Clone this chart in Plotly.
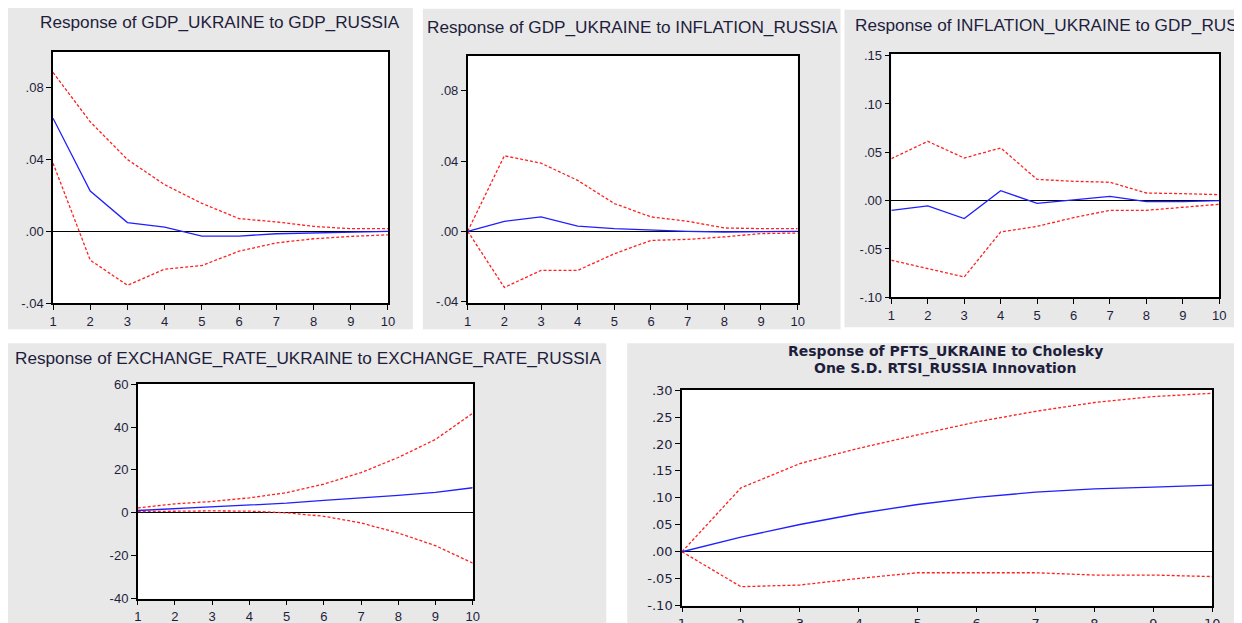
import plotly.graph_objects as go

W, H = 1242, 623
# The page body keeps the browser's default margin; target positions (measured
# on the reference in window pixels) are mapped into figure coordinates with an
# empirical linear correction for where the browser places the figure.
OFF = 8
XA, XB = 2.9, 0.9935
YA, YB = 8.4, 0.973

# ---------------- data ----------------
periods = [1, 2, 3, 4, 5, 6, 7, 8, 9, 10]

# Panel 1: Response of GDP_UKRAINE to GDP_RUSSIA
p1_resp = [0.063, 0.0225, 0.0049, 0.0024, -0.0026, -0.0026, -0.0013, -0.0008, -0.0005, 0.0]
p1_upper = [0.0885, 0.061, 0.040, 0.026, 0.0156, 0.0071, 0.0053, 0.0028, 0.0015, 0.0015]
p1_lower = [0.038, -0.016, -0.030, -0.021, -0.019, -0.011, -0.0064, -0.0041, -0.0028, -0.0019]

# Panel 2: Response of GDP_UKRAINE to INFLATION_RUSSIA
p2_resp = [0.0, 0.0057, 0.0082, 0.0029, 0.0015, 0.0006, 0.0, -0.0004, -0.0002, 0.0]
p2_upper = [0.0, 0.043, 0.0388, 0.029, 0.0158, 0.0082, 0.0057, 0.0019, 0.0015, 0.0015]
p2_lower = [0.0, -0.032, -0.0223, -0.0223, -0.0128, -0.0052, -0.0046, -0.0032, -0.0013, -0.001]

# Panel 3: Response of INFLATION_UKRAINE to GDP_RUSSIA
p3_resp = [-0.010, -0.0055, -0.0186, 0.0103, -0.0028, 0.001, 0.0045, -0.001, -0.001, 0.0]
p3_upper = [0.0434, 0.0614, 0.0441, 0.0545, 0.022, 0.020, 0.019, 0.0079, 0.0072, 0.0062]
p3_lower = [-0.0617, -0.0703, -0.079, -0.0324, -0.0266, -0.0176, -0.010, -0.010, -0.0072, -0.0038]

# Panel 4: Response of EXCHANGE_RATE_UKRAINE to EXCHANGE_RATE_RUSSIA
p4_resp = [1.1, 2.0, 3.0, 3.9, 4.5, 5.8, 6.9, 8.1, 9.5, 11.7]
p4_upper = [2.3, 4.2, 5.3, 7.0, 9.4, 13.4, 18.75, 25.8, 34.2, 46.4]
p4_lower = [0.6, 0.9, 0.9, 0.8, 0.0, -1.6, -4.7, -9.4, -15.3, -23.4]

# Panel 5: Response of PFTS_UKRAINE to Cholesky One S.D. RTSI_RUSSIA Innovation
p5_resp = [0.0, 0.027, 0.0506, 0.071, 0.0877, 0.101, 0.1105, 0.1167, 0.1198, 0.1235]
p5_upper = [0.0, 0.1185, 0.1636, 0.192, 0.217, 0.241, 0.2605, 0.277, 0.288, 0.294]
p5_lower = [0.0, -0.0648, -0.0617, -0.0494, -0.0389, -0.0389, -0.0389, -0.0432, -0.0432, -0.046]

# tick labels
x_ticks = [1, 2, 3, 4, 5, 6, 7, 8, 9, 10]
x_ticktext = ["1", "2", "3", "4", "5", "6", "7", "8", "9", "10"]
p1_yticks = [0.08, 0.04, 0.0, -0.04]
p1_ytext = [".08", ".04", ".00", "-.04"]
p2_yticks = [0.08, 0.04, 0.0, -0.04]
p2_ytext = [".08", ".04", ".00", "-.04"]
p3_yticks = [0.15, 0.10, 0.05, 0.0, -0.05, -0.10]
p3_ytext = [".15", ".10", ".05", ".00", "-.05", "-.10"]
p4_yticks = [60, 40, 20, 0, -20, -40]
p4_ytext = ["60", "40", "20", "0", "-20", "-40"]
p5_yticks = [0.30, 0.25, 0.20, 0.15, 0.10, 0.05, 0.0, -0.05, -0.10]
p5_ytext = [".30", ".25", ".20", ".15", ".10", ".05", ".00", "-.05", "-.10"]

titles = [
    "Response of GDP_UKRAINE to GDP_RUSSIA",
    "Response of GDP_UKRAINE to INFLATION_RUSSIA",
    "Response of INFLATION_UKRAINE to GDP_RUSSIA",
    "Response of EXCHANGE_RATE_UKRAINE to EXCHANGE_RATE_RUSSIA",
]
p5_title_lines = ["Response of PFTS_UKRAINE to Cholesky", "One S.D. RTSI_RUSSIA Innovation"]

# ---------------- layout geometry ----------------
def fx(px):
    return ((px - XA) / XB - OFF) / W

def fy(py):
    return 1 - ((py - YA) / YB - OFF) / H

panels = [
    dict(box=(5, 6, 413, 331), area=(52, 53, 388, 305), yr=[-0.04, 0.10],
         data=(p1_resp, p1_upper, p1_lower), yt=(p1_yticks, p1_ytext)),
    dict(box=(423, 10, 842, 331), area=(468, 57, 799, 305), yr=[-0.041, 0.10],
         data=(p2_resp, p2_upper, p2_lower), yt=(p2_yticks, p2_ytext)),
    dict(box=(846, 11, 1237, 329), area=(893, 55, 1222, 299), yr=[-0.10, 0.152],
         data=(p3_resp, p3_upper, p3_lower), yt=(p3_yticks, p3_ytext)),
    dict(box=(5, 345, 607, 660), area=(137, 386, 473, 601), yr=[-40, 60],
         data=(p4_resp, p4_upper, p4_lower), yt=(p4_yticks, p4_ytext)),
    dict(box=(628, 345, 1238, 660), area=(683, 392, 1215, 608), yr=[-0.10, 0.30],
         data=(p5_resp, p5_upper, p5_lower), yt=(p5_yticks, p5_ytext)),
]

fig = go.Figure()
shapes = []
GRAY = "#e8e8e8"
TXT = "#1e1e3c"
ARIAL = "Liberation Sans, Arial, sans-serif"
WIDE = "DejaVu Sans, Verdana, sans-serif"

for p in panels:
    bx0, by0, bx1, by1 = p["box"]
    shapes.append(dict(type="rect", xref="paper", yref="paper", layer="below",
                       x0=fx(bx0), x1=fx(bx1), y0=fy(by1), y1=fy(by0),
                       fillcolor=GRAY, line=dict(width=0)))
for p in panels:
    ax0, ay0, ax1, ay1 = p["area"]
    shapes.append(dict(type="rect", xref="paper", yref="paper", layer="below",
                       x0=fx(ax0), x1=fx(ax1), y0=fy(ay1), y1=fy(ay0),
                       fillcolor="white", line=dict(width=0)))

for i, p in enumerate(panels):
    n = "" if i == 0 else str(i + 1)
    xa, ya = "x" + n, "y" + n
    resp, up, lo = p["data"]
    for band in (up, lo):
        fig.add_trace(go.Scatter(x=periods, y=band, mode="lines", xaxis=xa, yaxis=ya,
                                 line=dict(color="#ff2020", width=1.3, dash="3px,2px"),
                                 showlegend=False, hoverinfo="skip"))
    fig.add_trace(go.Scatter(x=periods, y=resp, mode="lines", xaxis=xa, yaxis=ya,
                             line=dict(color="#2020ff", width=1.3),
                             showlegend=False, hoverinfo="skip"))
    ax0, ay0, ax1, ay1 = p["area"]
    if i < 4:
        tfont = dict(family=ARIAL, size=13, color=TXT)
    else:
        tfont = dict(family=WIDE, size=13, color=TXT)
    common = dict(showgrid=False, showline=True, mirror=True, linecolor="black",
                  linewidth=1.5, ticks="outside", ticklen=5, tickwidth=1.2,
                  tickcolor="black", tickfont=tfont)
    fig.layout["xaxis" + n] = dict(domain=[fx(ax0), fx(ax1)], range=[1, 10],
                                   anchor=ya, tickvals=x_ticks, ticktext=x_ticktext,
                                   zeroline=False, **common)
    fig.layout["yaxis" + n] = dict(domain=[fy(ay1), fy(ay0)], range=p["yr"],
                                   anchor=xa, tickvals=p["yt"][0], ticktext=p["yt"][1],
                                   zeroline=True, zerolinecolor="black", zerolinewidth=1.2,
                                   **common)

title_pos = [(220, 23), (633, 28), (855, 26), (12, 360)]
title_anchor = ["center", "center", "left", "left"]
annotations = []
for t, (tx, ty), anc in zip(titles, title_pos, title_anchor):
    annotations.append(dict(text=t, x=fx(tx), y=fy(ty), xref="paper", yref="paper",
                            xanchor=anc, yanchor="middle", showarrow=False,
                            font=dict(family=ARIAL, size=17.2, color=TXT)))
for line, ty in zip(p5_title_lines, [353, 370]):
    annotations.append(dict(text=line, x=fx(947), y=fy(ty), xref="paper", yref="paper",
                            xanchor="center", yanchor="middle", showarrow=False,
                            font=dict(family=WIDE, size=14, weight="bold", color=TXT)))

fig.update_layout(width=W, height=H, margin=dict(l=0, r=0, t=0, b=0),
                  paper_bgcolor="white", plot_bgcolor="rgba(0,0,0,0)",
                  shapes=shapes, annotations=annotations, showlegend=False)

fig.write_html("out.html", config={"displayModeBar": False})
